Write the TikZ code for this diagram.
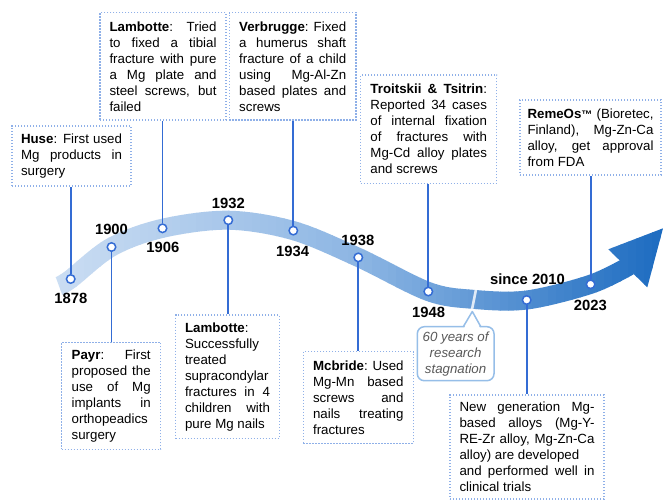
\documentclass[tikz,border=0pt]{standalone}
\usepackage{fontspec}
\setmainfont{Liberation Sans}
\hyphenpenalty=10000
\tolerance=10000
\hbadness=10000
\hfuzz=3pt
\definecolor{bandL}{RGB}{204,222,243}
\definecolor{bandM}{RGB}{140,181,227}
\definecolor{bandR}{RGB}{28,107,192}
\definecolor{connblue}{RGB}{52,108,212}
\definecolor{boxblue}{RGB}{143,176,232}
\definecolor{callblue}{RGB}{150,190,232}
\definecolor{calltext}{RGB}{89,89,89}
\newcommand{\mybandstroke}[1]{\draw[line width=19pt,#1] plot[smooth,tension=0.55] coordinates {(59,286) (70.7,279) (111.5,247) (162.5,228.3) (228.3,220.2) (293.3,230.6) (358.3,257.4) (428.3,291.5) (473,299.3) (526.7,300) (590.6,284.3) (629,266)};}
\tikzset{
  infobox/.style={draw=boxblue, line width=1.4pt, dash pattern=on 1.4pt off 1.6pt, fill=white,
    inner xsep=0pt, inner ysep=0pt, align=justify, font=\fontsize{13.3}{16}\selectfont},
  conn/.style={draw=connblue, line width=1.8pt},
  tdot/.style={circle, draw=connblue, fill=white, line width=1.5pt, minimum size=8.5pt, inner sep=0pt},
  yearlbl/.style={font=\fontsize{14.8}{16}\selectfont\bfseries, inner sep=0pt},
}
\begin{document}
\begin{tikzpicture}[x=1pt,y=-1pt]
\useasboundingbox[fill=white] (0,0) rectangle (663,499);

% gradient band built from vertical strips
\foreach \i in {0,...,78}{
  \pgfmathsetmacro{\xa}{44+8*\i}
  \pgfmathsetmacro{\xb}{\xa+8.7}
  \pgfmathsetmacro{\xm}{\xa+4}
  \pgfmathtruncatemacro{\pa}{max(0,min(100,(\xm-50)/3.1))}
  \pgfmathtruncatemacro{\pb}{max(0,min(100,(\xm-360)/3.03))}
  \ifdim\xm pt<360pt\relax \colorlet{bandc}{bandM!\pa!bandL}\else\colorlet{bandc}{bandR!\pb!bandM}\fi
  \begin{scope}
    \clip (\xa,-1) rectangle (\xb,500);
    \mybandstroke{draw=bandc}
    \fill[bandc] (608.3,249.3) -- (663,228.3) -- (647.3,287.3) -- cycle;
  \end{scope}
}

% break mark
\coordinate (brA) at (476.3,288);
\coordinate (brB) at (471.8,310.3);
\draw[white, opacity=0.8, line width=2.6pt] (brA) -- (brB);

% timeline dots
\node[tdot] (c1878) at (70.7,279) {};
\node[tdot] (c1900) at (111.5,247) {};
\node[tdot] (c1906) at (162.5,228.3) {};
\node[tdot] (c1932) at (228.3,220.2) {};
\node[tdot] (c1934) at (293.3,230.6) {};
\node[tdot] (c1938) at (358.3,257.4) {};
\node[tdot] (c1948) at (428.3,291.5) {};
\node[tdot] (c2010) at (526.7,300) {};
\node[tdot] (c2023) at (590.6,284.3) {};

% year labels
\node[yearlbl] (y1878) at (70.8,298.3) {1878};
\node[yearlbl] (y1900) at (111.5,229.7) {1900};
\node[yearlbl] (y1906) at (162.8,247) {1906};
\node[yearlbl] (y1932) at (228.3,203) {1932};
\node[yearlbl] (y1934) at (292.7,251.5) {1934};
\node[yearlbl] (y1938) at (357.8,240) {1938};
\node[yearlbl] (y1948) at (428.7,312.5) {1948};
\node[yearlbl] (y2010) at (527.5,279.2) {since 2010};
\node[yearlbl] (y2023) at (590.3,305.8) {2023};

% boxes
\node[infobox, text width=101pt, minimum width=119pt, minimum height=60pt] (huse) at (71.5,156)
  {\textbf{Huse}: First used\linebreak Mg products in\linebreak surgery};
\node[infobox, text width=107pt, minimum width=126pt, minimum height=107.3pt] (lamb1) at (163,66.3)
  {\textbf{Lambotte}: Tried\linebreak to fixed a tibial\linebreak fracture with pure\linebreak a Mg plate and\linebreak steel screws, but\linebreak failed};
\node[infobox, text width=107pt, minimum width=126.7pt, minimum height=107.3pt] (verb) at (292.7,66.3)
  {\textbf{Verbrugge}: Fixed\linebreak a humerus shaft\linebreak fracture of a child\linebreak using Mg-Al-Zn\linebreak based plates and\linebreak screws};
\node[infobox, text width=116.5pt, minimum width=136pt, minimum height=108.3pt] (troit) at (428.7,129.2)
  {\textbf{Troitskii \& Tsitrin}:\linebreak Reported 34 cases\linebreak of internal fixation\linebreak of fractures with\linebreak Mg-Cd alloy plates\linebreak and screws};
\node[infobox, text width=126pt, minimum width=141pt, minimum height=75pt] (remeos) at (590.5,137.5)
  {\textbf{RemeOs}{\fontsize{11}{11}\selectfont\bfseries ™} (Bioretec,\linebreak Finland), Mg-Zn-Ca\linebreak alloy, get approval\linebreak from FDA};
\node[infobox, text width=79pt, minimum width=99pt, minimum height=107pt] (payr) at (111.2,395.8)
  {\textbf{Payr}: First\linebreak proposed the\linebreak use of Mg\linebreak implants in\linebreak orthopeadics\newline surgery};
\node[infobox, text width=85pt, minimum width=103.6pt, minimum height=123.3pt] (lamb2) at (227.5,376.7)
  {\textbf{Lambotte}:\newline Successfully\newline treated\newline supracondylar\newline fractures in 4\linebreak children with\linebreak pure Mg nails};
\node[infobox, text width=90.5pt, minimum width=110pt, minimum height=91.7pt] (mcb) at (358.3,397.5)
  {\textbf{Mcbride}: Used\linebreak Mg-Mn based\linebreak screws and\linebreak nails treating\linebreak fractures};
\node[infobox, text width=135pt, minimum width=154pt, minimum height=104pt] (newgen) at (527,447)
  {New generation Mg-\linebreak based alloys (Mg-Y-\linebreak RE-Zr alloy, Mg-Zn-Ca\linebreak alloy) are developed\newline and performed well in\linebreak clinical trials};

% connectors
\draw[conn] (c1878) -- (c1878 |- huse.south);
\draw[conn] (c1906) -- (c1906 |- lamb1.south);
\draw[conn] (c1934) -- (c1934 |- verb.south);
\draw[conn] (c1948) -- (c1948 |- troit.south);
\draw[conn] (c2023) -- (c2023 |- remeos.south);
\draw[conn] (c1900) -- (c1900 |- payr.north);
\draw[conn] (c1932) -- (c1932 |- lamb2.north);
\draw[conn] (c1938) -- (c1938 |- mcb.north);
\draw[conn] (c2010) -- (c2010 |- newgen.north);

% callout
\coordinate (clTL) at (417.3,326.7);
\coordinate (clBR) at (494,380.7);
\coordinate (clP1) at (463.3,326.7);
\coordinate (clTip) at (472.3,311.5);
\coordinate (clP2) at (480.8,326.7);
\draw[draw=callblue, line width=1.5pt, fill=white, rounded corners=7pt] (clTL) rectangle (clBR);
\fill[white] ([xshift=0.9pt,yshift=-1.2pt]clP1) -- ([yshift=1.5pt]clTip) -- ([xshift=-0.9pt,yshift=-1.2pt]clP2) -- cycle;
\draw[draw=callblue, line width=1.5pt, line join=round] (clP1) -- (clTip) -- (clP2);
\node[font=\fontsize{13.3}{16}\selectfont\itshape, text=calltext, align=center, inner sep=0pt] (stag) at (455.6,354.2)
  {60 years of\\research\\stagnation};
\end{tikzpicture}
\end{document}
